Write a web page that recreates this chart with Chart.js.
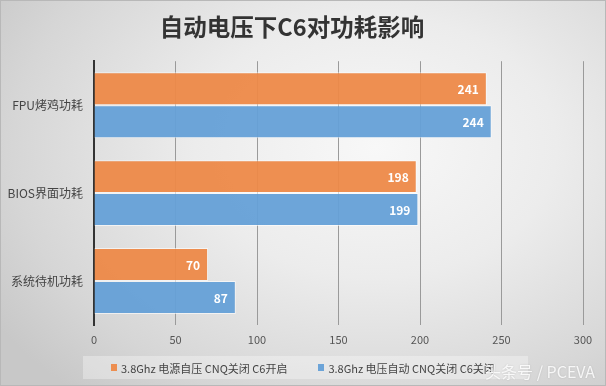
<!DOCTYPE html>
<html>
<head>
<meta charset="utf-8">
<script src="https://cdn.jsdelivr.net/npm/chart.js@4/dist/chart.umd.min.js"></script>
<style>
  html, body { margin: 0; padding: 0; }
  body { width: 606px; height: 386px; overflow: hidden; }
  #wrap {
    position: relative; width: 606px; height: 386px; box-sizing: border-box;
    border: 1px solid #b8b8b8;
    background: radial-gradient(ellipse 75% 85% at 62% 38%, #f8f8f8 0%, #ececec 40%, #d6d6d6 80%, #c8c8c8 100%);
  }
  canvas { position: absolute; left: 0; top: 0; }
  #legend {
    position: absolute; left: 82px; top: 355px; width: 445px; height: 23px;
    background: rgba(255,255,255,0.32);
    display: flex; align-items: center; box-sizing: border-box; padding-left: 28px;
    font: 11px "Noto Sans CJK SC", sans-serif; color: #444;
  }
  #legend .item { display: flex; align-items: center; margin-right: 31px; white-space: nowrap; }
  #legend .sw { width: 6px; height: 7px; margin-right: 4px; }
  #mark {
    position: absolute; right: 10px; bottom: 2px;
    font: 16px "Noto Sans CJK SC", sans-serif; color: rgba(255,255,255,0.85);
    text-shadow: 0 0 2px rgba(0,0,0,0.15);
  }
</style>
</head>
<body>
<div id="wrap">
  <canvas id="c" width="606" height="386"></canvas>
  <div id="legend"></div>
  <div id="mark">头条号 / PCEVA</div>
</div>
<script>
// 数据
const categories = ['FPU烤鸡功耗', 'BIOS界面功耗', '系统待机功耗'];
const seriesNames = ['3.8Ghz 电源自压 CNQ关闭 C6开启', '3.8Ghz 电压自动 CNQ关闭 C6关闭'];
const c6On = [241, 198, 70];
const c6Off = [244, 199, 87];
const xTicks = [0, 50, 100, 150, 200, 250, 300];

const orange = 'rgba(237,137,72,0.95)';
const blue = 'rgba(101,160,215,0.95)';
const font = '"Noto Sans CJK SC", "Noto Sans", sans-serif';

// 柱内数值
const valueLabels = {
  id: 'valueLabels',
  afterDatasetsDraw(chart) {
    const ctx = chart.ctx;
    ctx.save();
    ctx.fillStyle = '#ffffff';
    ctx.font = 'bold 12px ' + font;
    ctx.textAlign = 'right';
    ctx.textBaseline = 'middle';
    chart.data.datasets.forEach((ds, i) => {
      chart.getDatasetMeta(i).data.forEach((bar, j) => {
        ctx.fillText(ds.data[j], bar.x - 8, bar.y + 1);
      });
    });
    ctx.restore();
  }
};

const chart = new Chart(document.getElementById('c'), {
  type: 'bar',
  data: {
    labels: categories,
    datasets: [
      { label: seriesNames[0], data: c6On, backgroundColor: orange, borderColor: 'rgba(255,255,255,0.6)', borderWidth: 1 },
      { label: seriesNames[1], data: c6Off, backgroundColor: blue, borderColor: 'rgba(255,255,255,0.6)', borderWidth: 1 },
    ],
  },
  plugins: [valueLabels],
  options: {
    indexAxis: 'y',
    responsive: false,
    animation: false,
    devicePixelRatio: 1,
    datasets: { bar: { categoryPercentage: 0.75, barPercentage: 1 } },
    layout: { padding: { left: 0, right: 24, top: 0, bottom: 32 } },
    plugins: {
      title: {
        display: true,
        text: '自动电压下C6对功耗影响',
        color: '#333333',
        font: { family: font, size: 23.5, weight: 'bold' },
        padding: { top: 12, bottom: 20 },
      },
      legend: { display: false },
      tooltip: { enabled: false },
    },
    scales: {
      x: {
        min: 0, max: 300,
        afterBuildTicks: (s) => { s.ticks = xTicks.map((v) => ({ value: v })); },
        afterFit: (s) => { s.height = 30; },
        grid: { color: '#9a9a9a', lineWidth: 1, drawTicks: false },
        border: { display: false },
        ticks: { color: '#555555', font: { family: font, size: 11 }, padding: 8 },
      },
      y: {
        afterFit: (s) => { s.width = 93; },
        grid: { display: false },
        border: { display: true, color: '#333333', width: 2 },
        ticks: { color: '#444444', font: { family: font, size: 12 }, padding: 3 },
      },
    },
  },
});

// 图例
document.getElementById('legend').innerHTML = chart.data.datasets.map((ds) =>
  `<span class="item"><span class="sw" style="background:${ds.backgroundColor}"></span>${ds.label}</span>`
).join('');
</script>
</body>
</html>
